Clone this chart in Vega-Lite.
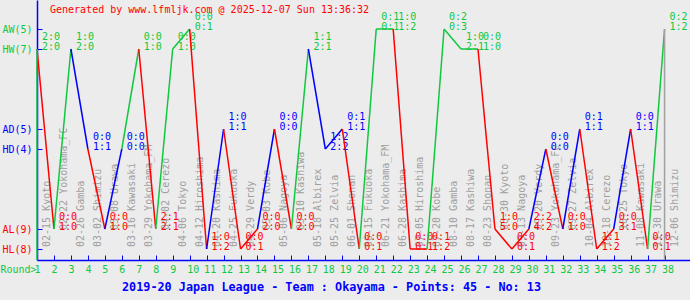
{
  "$schema": "https://vega.github.io/schema/vega-lite/v6.json",
  "width": 653,
  "height": 260,
  "autosize": {"type": "none"},
  "padding": {"left": 37, "top": 0, "right": 0, "bottom": 40},
  "background": "#ececec",
  "config": {"view": {"stroke": null}, "font": "DejaVu Sans Mono"},
  "title": {
    "text": "Generated by www.lfmljk.com @ 2025-12-07 Sun 13:36:32",
    "orient": "top", "anchor": "start", "frame": "group",
    "offset": -23, "dx": 13, "baseline": "alphabetic",
    "font": "DejaVu Sans Mono", "fontSize": 10, "fontWeight": "normal", "color": "#ff0000"
  },
  "datasets": {
    "levels": [
      {"kind": "AW", "code": 11},
      {"kind": "HW", "code": 10},
      {"kind": "AD", "code": 6},
      {"kind": "HD", "code": 5},
      {"kind": "AL", "code": 1},
      {"kind": "HL", "code": 0}
    ],
    "matches": [
      {"round": 1, "match": "02-15 Kyoto", "kind": "HW", "res": "W", "ht": "2:0", "ft": "2:0"},
      {"round": 2, "match": "02-22 Yokohama_FC", "kind": "AL", "res": "L", "ht": "0:0", "ft": "1:0"},
      {"round": 3, "match": "02-26 Gamba", "kind": "HW", "res": "W", "ht": "1:0", "ft": "2:0"},
      {"round": 4, "match": "03-02 Shimizu", "kind": "HD", "res": "D", "ht": "0:0", "ft": "1:1"},
      {"round": 5, "match": "03-08 Urawa", "kind": "AL", "res": "L", "ht": "0:0", "ft": "1:0"},
      {"round": 6, "match": "03-16 Kawasaki", "kind": "HD", "res": "D", "ht": "0:0", "ft": "0:0"},
      {"round": 7, "match": "03-29 Yokohama_FM", "kind": "HW", "res": "W", "ht": "0:0", "ft": "1:0"},
      {"round": 8, "match": "04-02 Cerezo", "kind": "AL", "res": "L", "ht": "2:1", "ft": "2:1"},
      {"round": 9, "match": "04-06 Tokyo", "kind": "HW", "res": "W", "ht": "0:0", "ft": "1:0"},
      {"round": 10, "match": "04-12 Hiroshima", "kind": "AW", "res": "W", "ht": "0:0", "ft": "0:1"},
      {"round": 11, "match": "04-20 Kashima", "kind": "HL", "res": "L", "ht": "1:0", "ft": "1:2"},
      {"round": 12, "match": "04-25 Fukuoka", "kind": "AD", "res": "D", "ht": "1:0", "ft": "1:1"},
      {"round": 13, "match": "04-29 Verdy", "kind": "HL", "res": "L", "ht": "0:0", "ft": "0:1"},
      {"round": 14, "match": "05-03 Kobe", "kind": "AL", "res": "L", "ht": "0:0", "ft": "2:0"},
      {"round": 15, "match": "05-06 Nagoya", "kind": "AD", "res": "D", "ht": "0:0", "ft": "0:0"},
      {"round": 16, "match": "05-10 Kashiwa", "kind": "AL", "res": "L", "ht": "0:0", "ft": "2:0"},
      {"round": 17, "match": "05-18 Albirex", "kind": "HW", "res": "W", "ht": "1:1", "ft": "2:1"},
      {"round": 18, "match": "05-25 Zelvia", "kind": "HD", "res": "D", "ht": "1:2", "ft": "2:2"},
      {"round": 19, "match": "06-01 Shonan", "kind": "AD", "res": "D", "ht": "0:1", "ft": "1:1"},
      {"round": 20, "match": "06-15 Fukuoka", "kind": "HL", "res": "L", "ht": "0:0", "ft": "0:1"},
      {"round": 21, "match": "06-21 Yokohama_FM", "kind": "AW", "res": "W", "ht": "0:1", "ft": "0:1"},
      {"round": 22, "match": "06-28 Kashima", "kind": "AW", "res": "W", "ht": "1:0", "ft": "1:2"},
      {"round": 23, "match": "07-05 Hiroshima", "kind": "HL", "res": "L", "ht": "0:0", "ft": "0:1"},
      {"round": 24, "match": "07-20 Kobe", "kind": "HL", "res": "L", "ht": "0:1", "ft": "1:2"},
      {"round": 25, "match": "08-10 Gamba", "kind": "AW", "res": "W", "ht": "0:2", "ft": "0:3"},
      {"round": 26, "match": "08-17 Kashiwa", "kind": "HW", "res": "W", "ht": "1:0", "ft": "2:1"},
      {"round": 27, "match": "08-23 Shonan", "kind": "HW", "res": "W", "ht": "0:0", "ft": "1:0"},
      {"round": 28, "match": "08-30 Kyoto", "kind": "AL", "res": "L", "ht": "1:0", "ft": "5:0"},
      {"round": 29, "match": "09-13 Nagoya", "kind": "HL", "res": "L", "ht": "0:0", "ft": "0:1"},
      {"round": 30, "match": "09-20 Verdy", "kind": "AL", "res": "L", "ht": "2:2", "ft": "4:2"},
      {"round": 31, "match": "09-23 Yokohama_FC", "kind": "HD", "res": "D", "ht": "0:0", "ft": "0:0"},
      {"round": 32, "match": "09-27 Zelvia", "kind": "AL", "res": "L", "ht": "0:0", "ft": "1:0"},
      {"round": 33, "match": "10-04 Albirex", "kind": "AD", "res": "D", "ht": "0:1", "ft": "1:1"},
      {"round": 34, "match": "10-18 Cerezo", "kind": "HL", "res": "L", "ht": "1:1", "ft": "1:2"},
      {"round": 35, "match": "10-25 Tokyo", "kind": "AL", "res": "L", "ht": "0:0", "ft": "3:1"},
      {"round": 36, "match": "11-08 Kawasaki", "kind": "AD", "res": "D", "ht": "0:0", "ft": "1:1"},
      {"round": 37, "match": "11-30 Urawa", "kind": "HL", "res": "L", "ht": "0:0", "ft": "0:1"},
      {"round": 38, "match": "12-06 Shimizu", "kind": "AW", "res": "W", "ht": "0:2", "ft": "1:2"}
    ]
  },
  "data": {"name": "matches"},
  "transform": [
    {"lookup": "kind", "from": {"data": {"name": "levels"}, "key": "kind", "fields": ["code"]}}
  ],
  "encoding": {
    "x": {
      "field": "round", "type": "quantitative",
      "scale": {"domain": [1, 39.5], "nice": false, "zero": false},
      "axis": {
        "values": [1,2,3,4,5,6,7,8,9,10,11,12,13,14,15,16,17,18,19,20,21,22,23,24,25,26,27,28,29,30,31,32,33,34,35,36,37,38],
        "format": "d", "grid": false,
        "domainColor": "#0000ff", "domainWidth": 1.5,
        "tickColor": "#0000ff", "tickSize": -5, "tickWidth": 1,
        "labelColor": "#10c840", "labelFont": "DejaVu Sans Mono", "labelFontSize": 10,
        "labelAlign": "left", "labelOffset": -3, "labelBaseline": "top", "labelPadding": 9.5,
        "labelFlush": false, "labelOverlap": false, "labelBound": false,
        "title": "2019-20 Japan League - Team : Okayama - Points: 45 - No: 13",
        "titleFont": "DejaVu Sans Mono", "titleFontSize": 11.8, "titleFontWeight": "bold",
        "titleColor": "#0000ff", "titleX": 294, "titleY": 21, "titleAlign": "center",
        "titleAnchor": null, "titleBaseline": "top"
      }
    },
    "y": {
      "field": "code", "type": "quantitative",
      "scale": {"domain": [-0.55, 12.45], "nice": false, "zero": false},
      "axis": {
        "values": [0, 1, 5, 6, 10, 11], "grid": false,
        "labelExpr": "datum.value == 11 ? 'AW(5)' : datum.value == 10 ? 'HW(7)' : datum.value == 6 ? 'AD(5)' : datum.value == 5 ? 'HD(4)' : datum.value == 1 ? 'AL(9)' : 'HL(8)'",
        "labelColor": {"condition": [{"test": "datum.value >= 10", "value": "#10c840"}, {"test": "datum.value >= 5", "value": "#0000ff"}], "value": "#ff0000"},
        "domainColor": "#0000ff", "domainWidth": 1.5,
        "tickColor": "#0000ff", "tickSize": -5,
        "labelFont": "DejaVu Sans Mono", "labelFontSize": 10, "labelPadding": 10,
        "labelBaseline": "middle", "labelFlush": false, "labelOverlap": false,
        "title": "Round>", "titleFont": "DejaVu Sans Mono", "titleFontSize": 10,
        "titleFontWeight": "normal", "titleColor": "#10c840", "titleAngle": 0,
        "titleX": -37, "titleY": 264.5, "titleAlign": "left", "titleBaseline": "top", "titleAnchor": null
      }
    },
    "color": {
      "field": "res", "type": "nominal",
      "scale": {"domain": ["W", "D", "L"], "range": ["#10c840", "#0000ff", "#ff0000"]},
      "legend": null
    }
  },
  "layer": [
    {
      "transform": [{"filter": "datum.kind != 'AL'"}],
      "mark": {"type": "text", "angle": 270, "align": "left", "baseline": "alphabetic", "dx": 2, "dy": 13, "fontSize": 10, "font": "DejaVu Sans Mono", "color": "#a0a0a0"},
      "encoding": {
        "y": {"datum": 0},
        "text": {"field": "match"},
        "color": {"value": "#a0a0a0"}
      }
    },
    {
      "transform": [{"filter": "datum.kind == 'AL'"}],
      "mark": {"type": "text", "angle": 270, "align": "left", "baseline": "alphabetic", "dx": -1, "dy": 13, "fontSize": 10, "font": "DejaVu Sans Mono", "color": "#a0a0a0"},
      "encoding": {
        "y": {"datum": 1},
        "text": {"field": "match"},
        "color": {"value": "#a0a0a0"}
      }
    },
    {
      "mark": {"type": "text", "align": "left", "baseline": "alphabetic", "dx": 5, "dy": -9, "fontSize": 10, "font": "DejaVu Sans Mono"},
      "encoding": {"text": {"field": "ht"}}
    },
    {
      "mark": {"type": "text", "align": "left", "baseline": "alphabetic", "dx": 5, "dy": 1, "fontSize": 10, "font": "DejaVu Sans Mono"},
      "encoding": {"text": {"field": "ft"}}
    },
    {
      "transform": [
        {"window": [{"op": "lag", "field": "code", "as": "pcode"}, {"op": "lag", "field": "round", "as": "pround"}], "sort": [{"field": "round"}]},
        {"filter": "datum.pround != null"}
      ],
      "mark": {"type": "rule", "strokeWidth": 1.5},
      "encoding": {
        "x2": {"field": "pround"},
        "y2": {"field": "pcode"}
      }
    },
    {
      "transform": [{"filter": "datum.round == 1"}],
      "mark": {"type": "rule", "strokeWidth": 1.5},
      "encoding": {
        "y": {"datum": -0.55},
        "y2": {"field": "code"}
      }
    },
    {
      "transform": [{"filter": "datum.round == 38"}],
      "mark": {"type": "rule", "strokeWidth": 1.5, "color": "#a0a0a0"},
      "encoding": {
        "y": {"datum": -0.55},
        "y2": {"field": "code"},
        "color": {"value": "#a0a0a0"}
      }
    }
  ]
}
